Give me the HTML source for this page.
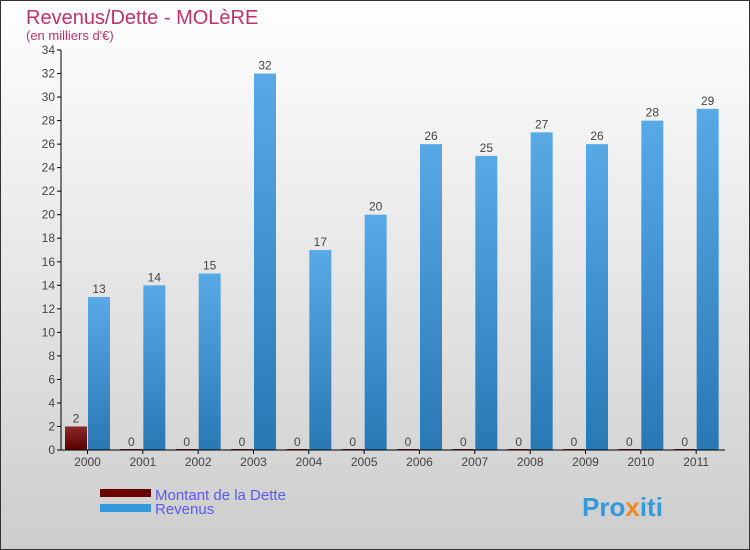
<!DOCTYPE html>
<html><head><meta charset="utf-8"><style>
body{margin:0}
#c{width:750px;height:550px;position:relative;overflow:hidden;font-family:"Liberation Sans",sans-serif}
</style></head><body>
<div id="c">
<svg id="s" width="750" height="550" xmlns="http://www.w3.org/2000/svg">
<defs>
<linearGradient id="bg" x1="0" y1="0" x2="0" y2="1"><stop offset="0" stop-color="#ffffff"/><stop offset="1" stop-color="#cdcdcd"/></linearGradient>
<linearGradient id="gb" x1="0" y1="0" x2="0" y2="1"><stop offset="0" stop-color="#58aae6"/><stop offset="1" stop-color="#2878b4"/></linearGradient>
<linearGradient id="gr" x1="0" y1="0" x2="0" y2="1"><stop offset="0" stop-color="#8a2a2a"/><stop offset="1" stop-color="#5a0000"/></linearGradient>
</defs>
<rect x="0.5" y="0.5" width="749" height="549" fill="url(#bg)" stroke="#333"/>
<text x="26" y="24" font-size="20" fill="#c0306a">Revenus/Dette - MOLèRE</text>
<text x="26" y="40" font-size="13" fill="#c0306a">(en milliers d'€)</text>
<g id="plot"></g>
<g>
<rect x="100" y="489" width="51" height="8" fill="#6a0000"/>
<text x="155" y="500" font-size="15" fill="#5a5aee">Montant de la Dette</text>
<rect x="100" y="504" width="51" height="8" fill="#3399dd"/>
<text x="155" y="514" font-size="15" fill="#5a5aee">Revenus</text>
</g>
<text x="582" y="516" font-size="26" font-weight="bold" fill="#3399dd">Pro<tspan fill="#ee8822">x</tspan>iti</text>
</svg>
</div>
<script>
const categories=["2000","2001","2002","2003","2004","2005","2006","2007","2008","2009","2010","2011"];
const debtValues=[2,0,0,0,0,0,0,0,0,0,0,0];
const revenueValues=[13,14,15,32,17,20,26,25,27,26,28,29];
const yTicks=[0,2,4,6,8,10,12,14,16,18,20,22,24,26,28,30,32,34];
const NS="http://www.w3.org/2000/svg";
const g=document.getElementById('plot');
const X0=61,X1=725,Y0=450,Y1=50,YMAX=34;
const step=(X1-X0)/categories.length;
function y(v){return Y0-(v/YMAX)*(Y0-Y1);}
function xg(i){return X0+i*step;}
function mk(t,a){const e=document.createElementNS(NS,t);for(const k in a)e.setAttribute(k,a[k]);g.appendChild(e);return e;}
yTicks.forEach(v=>{
  const l=mk('line',{x1:57,x2:61,y1:y(v),y2:y(v),stroke:'#000'});
  
  
  const t=mk('text',{x:55,y:y(v)+4,'text-anchor':'end','font-size':12,fill:'#444'});
  t.textContent=v;
  
  
});
categories.forEach((c,i)=>{
  const bx=xg(i)+4;
  const dh=Y0-y(debtValues[i]);
  const d=mk('rect',{x:bx,y:y(debtValues[i])-(dh<1?1:0),width:22,height:Math.max(dh,1),fill:'url(#gr)'});
  
  
  const dl=mk('text',{x:bx+11,y:y(debtValues[i])-4,'text-anchor':'middle','font-size':12,fill:'#444'});
  dl.textContent=debtValues[i];
  
  
  const r=mk('rect',{x:bx+23,y:y(revenueValues[i]),width:22,height:Y0-y(revenueValues[i]),fill:'url(#gb)'});
  
  
  const rl=mk('text',{x:bx+34,y:y(revenueValues[i])-4,'text-anchor':'middle','font-size':12,fill:'#444'});
  rl.textContent=revenueValues[i];
  
  
  const tk=mk('line',{x1:bx+22.5,x2:bx+22.5,y1:450,y2:454,stroke:'#000'});
  
  
  const xl=mk('text',{x:bx+22.5,y:466,'text-anchor':'middle','font-size':12,fill:'#444'});
  xl.textContent=c;
  
  
});
const ya=mk('line',{x1:61,x2:61,y1:50,y2:450,stroke:'#000'});


const xa=mk('line',{x1:61,x2:725,y1:450,y2:450,stroke:'#000'});


</script>
</body></html>
